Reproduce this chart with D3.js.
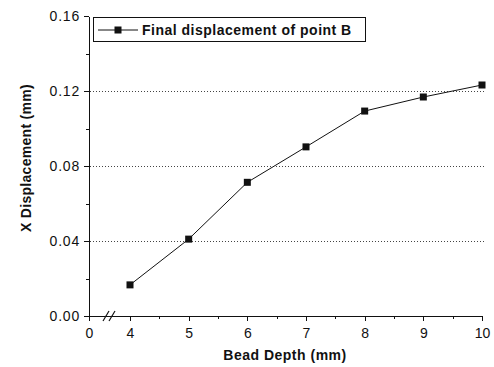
<!DOCTYPE html>
<head>
    <meta charset="utf-8" />
    <title>Final displacement of point B</title>
</head>
<style>
    body {
        margin: 0;
        background-color: #ffffff;
    }

    svg text {
        font-family: "Liberation Sans", Arial, sans-serif;
        fill: #111;
    }

    .axis path,
    .axis line {
        fill: none;
        stroke: #111;
        stroke-width: 1px;
        shape-rendering: crispEdges;
    }

    .grid {
        stroke: #444;
        stroke-width: 1px;
        stroke-dasharray: 1, 2;
        shape-rendering: crispEdges;
    }
</style>
<body>
    <svg id="chart" width="494" height="367"></svg>
    <script src="https://d3js.org/d3.v7.min.js"></script>
    <script>
        // data
        var depth = [4, 5, 6, 7, 8, 9, 10];
        var displacement = [0.0166, 0.0410, 0.0713, 0.0902, 0.1093, 0.1168, 0.1232];
        var xTicks = [0, 4, 5, 6, 7, 8, 9, 10];
        var xMinor = [4.5, 5.5, 6.5, 7.5, 8.5, 9.5];
        var yTicks = [0, 0.04, 0.08, 0.12, 0.16];
        var yMinor = [0.02, 0.06, 0.10, 0.14];
        var gridTicks = [0.04, 0.08, 0.12];
        var seriesName = "Final displacement of point B";

        var svg = d3.select("#chart");

        // broken axis: 0..4 squeezed, 4..10 linear
        var x = d3.scaleLinear().domain([0, 4, 10]).range([89, 130, 482]);
        var y = d3.scaleLinear().domain([0, 0.16]).range([316, 16]);

        // grid
        svg.append("g").selectAll("line")
            .data(gridTicks)
            .enter().append("line")
            .attr("class", "grid")
            .attr("x1", x(0) + 1)
            .attr("x2", 485)
            .attr("y1", function(d) { return Math.round(y(d)) + 0.5; })
            .attr("y2", function(d) { return Math.round(y(d)) + 0.5; });

        // x axis
        var xAxis = svg.append("g")
            .attr("class", "x axis")
            .attr("transform", "translate(0," + y(0) + ")")
            .call(d3.axisBottom(x).tickValues(xTicks).tickSizeInner(5).tickSizeOuter(0).tickPadding(7));
        xAxis.selectAll("text").attr("font-size", "14px").attr("fill", "#111");

        svg.append("g")
            .attr("class", "x axis")
            .attr("transform", "translate(0," + y(0) + ")")
            .call(d3.axisBottom(x).tickValues(xMinor).tickSize(3).tickFormat(""))
            .select(".domain").remove();

        // y axis
        var yAxis = svg.append("g")
            .attr("class", "y axis")
            .attr("transform", "translate(" + x(0) + ",0)")
            .call(d3.axisLeft(y).tickValues(yTicks).tickFormat(d3.format(".2f"))
                .tickSizeInner(5).tickSizeOuter(0).tickPadding(4));
        yAxis.selectAll("text").attr("font-size", "14px").attr("letter-spacing", "0.8px").attr("fill", "#111");

        svg.append("g")
            .attr("class", "y axis")
            .attr("transform", "translate(" + x(0) + ",0)")
            .call(d3.axisLeft(y).tickValues(yMinor).tickSize(3).tickFormat(""))
            .select(".domain").remove();

        // axis break marks
        var brk = svg.append("g").attr("stroke", "#111").attr("stroke-width", 1.2);
        [106, 112].forEach(function(bx) {
            brk.append("line")
                .attr("x1", bx - 3).attr("y1", y(0) + 5)
                .attr("x2", bx + 3).attr("y2", y(0) - 5);
        });

        // series
        var pts = depth.map(function(d, i) { return [d, displacement[i]]; });

        svg.append("path")
            .datum(pts)
            .attr("fill", "none")
            .attr("stroke", "#111")
            .attr("stroke-width", 1)
            .attr("d", d3.line()
                .x(function(d) { return x(d[0]); })
                .y(function(d) { return y(d[1]); }));

        svg.selectAll(".pt")
            .data(pts)
            .enter().append("rect")
            .attr("class", "pt")
            .attr("x", function(d) { return x(d[0]) - 3.5; })
            .attr("y", function(d) { return y(d[1]) - 3.5; })
            .attr("width", 7)
            .attr("height", 7)
            .attr("fill", "#111");

        // axis titles
        svg.append("text")
            .attr("x", 285)
            .attr("y", 360)
            .attr("text-anchor", "middle")
            .attr("font-size", "14px")
            .attr("font-weight", "bold")
            .attr("letter-spacing", "0.5px")
            .text("Bead Depth (mm)");

        svg.append("text")
            .attr("transform", "translate(31,158) rotate(-90)")
            .attr("text-anchor", "middle")
            .attr("font-size", "14px")
            .attr("font-weight", "bold")
            .attr("letter-spacing", "0.3px")
            .text("X Displacement (mm)");

        // legend
        var legend = svg.append("g");
        legend.append("rect")
            .attr("x", 93.5).attr("y", 17.5)
            .attr("width", 272).attr("height", 24)
            .attr("fill", "#fff")
            .attr("stroke", "#111")
            .attr("stroke-width", 1);
        legend.append("line")
            .attr("x1", 98).attr("x2", 138)
            .attr("y1", 30).attr("y2", 30)
            .attr("stroke", "#111");
        legend.append("rect")
            .attr("x", 118 - 3.5).attr("y", 30 - 3.5)
            .attr("width", 7).attr("height", 7)
            .attr("fill", "#111");
        legend.append("text")
            .attr("x", 142)
            .attr("y", 35)
            .attr("font-size", "14px")
            .attr("font-weight", "bold")
            .attr("letter-spacing", "0.5px")
            .text(seriesName);
    </script>
</body>
